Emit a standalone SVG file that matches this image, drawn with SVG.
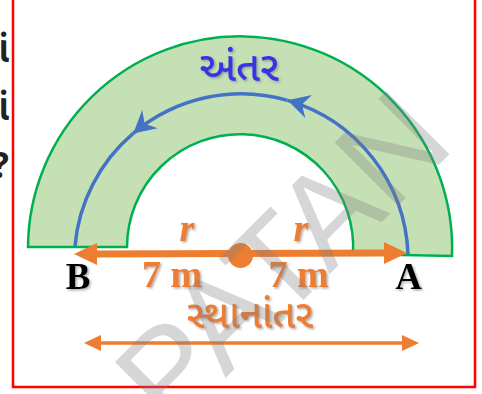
<svg xmlns="http://www.w3.org/2000/svg" width="482" height="394" viewBox="0 0 482 394">
<style>
.orange{fill:#ED7D31}
.lbl{font-family:"Liberation Serif","Times New Roman",serif;font-weight:bold;text-anchor:middle}
.guj{font-family:"Noto Sans Gujarati","Noto Sans","DejaVu Sans",sans-serif;text-anchor:middle}
.wm{font-family:"Liberation Sans",Arial,sans-serif;fill:#7f7f7f;fill-opacity:0.32;text-anchor:middle}
</style>
<defs>
<filter id="sh" x="-20%" y="-20%" width="150%" height="150%">
<feDropShadow dx="1.5" dy="1.5" stdDeviation="1" flood-color="#777" flood-opacity="0.6"/>
</filter>
<marker id="blueHead" markerUnits="userSpaceOnUse" markerWidth="30" markerHeight="30" viewBox="-25 -15 30 30" refX="0" refY="0" orient="auto" overflow="visible">
<path d="M0,0 L-22,-12 L-15,0 L-22,12 Z" fill="#4472C4"/>
</marker>
<marker id="orHead" markerUnits="userSpaceOnUse" markerWidth="30" markerHeight="30" viewBox="0 -15 30 30" refX="0" refY="0" orient="auto-start-reverse" overflow="visible">
<path d="M0,-11 L23,0 L0,11 Z" fill="#ED7D31"/>
</marker>
<marker id="orSmall" markerUnits="userSpaceOnUse" markerWidth="20" markerHeight="20" viewBox="0 -10 20 20" refX="0" refY="0" orient="auto-start-reverse" overflow="visible">
<path d="M0,-8 L17,0 L0,8 Z" fill="#ED7D31"/>
</marker>
</defs>
<rect x="0" y="0" width="482" height="394" fill="#fff"/>
<g id="cut-text" font-family="'Noto Sans Gujarati','Noto Sans','DejaVu Sans',sans-serif" font-size="36" font-weight="bold" fill="#222" text-anchor="end">
<text x="9" y="62">ાં</text>
<text x="9" y="120">ાં</text>
<text x="9" y="178">?</text>
</g>
<rect id="frame" x="13" y="-5" width="462" height="392" fill="none" stroke="#FF0000" stroke-width="2.5"/>
<g id="ring">
<path d="M28,247 A212.07,212.07 0 1 1 452,256 L353,254 A113.1,113.1 0 1 0 127,247 Z" fill="#C5E0B4" stroke="#00B050" stroke-width="2.5" stroke-linejoin="miter"/>
</g>
<g id="connectors">
<g id="distance-path" fill="none" stroke="#4472C4" stroke-width="3.5">
<path d="M408,254 A167,167 0 0 0 287.5,100.35" marker-end="url(#blueHead)"/>
<path d="M287.5,100.35 A167,167 0 0 0 133.2,133.45" marker-end="url(#blueHead)"/>
<path d="M133.2,133.45 A167,167 0 0 0 75,246"/>
</g>
<path id="radius-line" d="M97,254 L384,253" stroke="#ED7D31" stroke-width="7" fill="none" marker-start="url(#orHead)" marker-end="url(#orHead)"/>
<path id="displacement-arrow" d="M101,343 L402,343" stroke="#ED7D31" stroke-width="3.5" fill="none" marker-start="url(#orSmall)" marker-end="url(#orSmall)"/>
</g>
<g id="center">
<circle cx="240.5" cy="255.5" r="12.5" fill="#ED7D31"/>
</g>
<g id="label-antar">
<text class="guj" x="239" y="81" font-size="41" font-weight="500" fill="#3535E6" filter="url(#sh)">અંતર</text>
</g>
<g id="label-r">
<text class="lbl orange" x="187" y="241" font-size="38" font-style="italic" filter="url(#sh)">r</text>
<text class="lbl orange" x="301" y="241" font-size="38" font-style="italic" filter="url(#sh)">r</text>
</g>
<g id="label-7m">
<text class="lbl orange" x="172" y="287" font-size="38" filter="url(#sh)">7 m</text>
<text class="lbl orange" x="298.5" y="287" font-size="38" filter="url(#sh)">7 m</text>
</g>
<g id="point-B"><text class="lbl" x="78" y="289" font-size="37" fill="#000" filter="url(#sh)">B</text></g>
<g id="point-A"><text class="lbl" x="408.5" y="289" font-size="37" fill="#000" filter="url(#sh)">A</text></g>
<g id="label-sthanantar">
<text class="guj orange" x="250" y="328" font-size="39" font-weight="500" filter="url(#sh)">સ્થાનાંતર</text>
</g>
<g id="watermark">
<text class="wm" transform="translate(282,258) rotate(-45)" x="0" y="45" font-size="130">PATAN</text>
</g>
</svg>
